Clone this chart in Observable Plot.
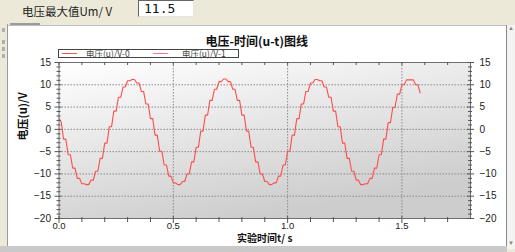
<!DOCTYPE html>
<html><head><meta charset="utf-8">
<script src="https://cdn.jsdelivr.net/npm/d3@7"></script>
<script src="https://cdn.jsdelivr.net/npm/@observablehq/plot@0.6"></script>
<style>
html,body{margin:0;padding:0;}
body{width:515px;height:252px;overflow:hidden;background:#ece9d8;position:relative;font-family:"Liberation Sans",Arial,sans-serif;}
.abs{position:absolute;}
#hdrLabel{left:22px;top:3px;font-family:"Noto Sans CJK SC",sans-serif;font-size:11.5px;color:#222;letter-spacing:0px;}
#hdrBox{left:138px;top:0px;width:56px;height:17px;background:#fff;border-top:1px solid #666;border-left:1px solid #666;border-right:1px solid #e4e4e4;border-bottom:1px solid #e4e4e4;box-sizing:border-box;}
#hdrVal{left:5px;top:0px;font-family:"DejaVu Sans Mono",monospace;font-size:13px;color:#111;line-height:16px;}
#leftStrip{left:0;top:24px;width:8px;height:222px;background:#ece9d8;border-right:1px solid #9a9a9a;box-sizing:border-box;}
.tab{left:2px;width:3px;height:4px;background:#b0b0b0;}
#topTab{left:10px;top:23px;width:30px;height:2px;background:#9c9c9c;}
#panel{left:8px;top:25px;width:498px;height:221px;background:#fff;border-top:1px solid #bdbdbd;box-sizing:border-box;}
#scroll{left:506px;top:25px;width:9px;height:224px;background:#f3f3f1;border-left:1px solid #8a8a8a;box-sizing:border-box;font-size:6px;color:#888;}
#bottomBar{left:0;top:246px;width:507px;height:6px;background:#c9c9c9;}
#chart{left:0;top:0;}
#legend{left:58px;top:49px;width:181px;height:9px;border:1px solid #444;box-sizing:border-box;background:#fff;font-family:"Noto Sans CJK SC",sans-serif;font-size:8.5px;line-height:7px;color:#444;white-space:nowrap;}
.sw{position:absolute;top:3px;height:0;border-top:1.2px solid;}
.lt{position:absolute;top:0px;}
</style>
</head><body>
<div class="abs" id="hdrLabel">电压最大值Um/ V</div>
<div class="abs" id="hdrBox"><div class="abs" id="hdrVal">11.5</div></div>
<div class="abs" id="topTab"></div>
<div class="abs" id="leftStrip">
  <div class="abs tab" style="top:4px"></div>
  <div class="abs tab" style="top:16px"></div>
  <div class="abs tab" style="top:23px"></div>
  <div class="abs tab" style="top:30px"></div>
</div>
<div class="abs" id="panel"></div>
<div class="abs" id="scroll"><div class="abs" style="left:1px;top:0px">▲</div><div class="abs" style="left:1px;top:215px">▼</div></div>
<div class="abs" id="bottomBar"></div>
<div class="abs" id="chart"></div>
<div class="abs" id="legend">
  <div class="sw" style="left:3px;width:15px;border-color:#ff4d4d"></div>
  <div class="lt" style="left:27px">电压(u)/V-0</div>
  <div class="sw" style="left:94px;width:15px;border-color:#ff7a8c"></div>
  <div class="lt" style="left:123px">电压(u)/V-1</div>
</div>
<script>
// ---- data ----
const chartTitle = "电压-时间(u-t)图线";
const xLabel = "实验时间t/ s";
const yLabel = "电压(u)/V";
const seriesNames = ["电压(u)/V-0", "电压(u)/V-1"];
const sampleStep = 0.01; // s between samples
const voltage0 = [
  2.5, 1.6, -2.2, -2.2, -5.7, -5.7, -8.7, -8.7, -11.0, -11.0,
  -12.2, -12.2, -12.4, -12.4, -11.4, -11.4, -9.4, -9.4, -6.5, -6.5,
  -3.1, -3.1, 0.6, 0.6, 4.1, 4.1, 7.2, 7.2, 9.5, 9.5,
  10.9, 10.9, 11.2, 11.2, 10.4, 10.4, 8.5, 8.5, 5.7, 5.7,
  2.4, 2.4, -1.3, -1.3, -4.9, -4.9, -8.0, -8.0, -10.5, -10.5,
  -12.0, -12.0, -12.4, -12.4, -11.7, -11.7, -10.0, -10.0, -7.3, -7.3,
  -4.0, -4.0, -0.4, -0.4, 3.2, 3.2, 6.5, 6.5, 9.0, 9.0,
  10.7, 10.7, 11.3, 11.3, 10.7, 10.7, 9.0, 9.0, 6.5, 6.5,
  3.2, 3.2, -0.4, -0.4, -4.0, -4.0, -7.3, -7.3, -10.0, -10.0,
  -11.7, -11.7, -12.4, -12.4, -12.0, -12.0, -10.5, -10.5, -8.0, -8.0,
  -4.9, -4.9, -1.3, -1.3, 2.4, 2.4, 5.7, 5.7, 8.5, 8.5,
  10.4, 10.4, 11.2, 11.2, 10.9, 10.9, 9.5, 9.5, 7.2, 7.2,
  4.1, 4.1, 0.6, 0.6, -3.1, -3.1, -6.5, -6.5, -9.4, -9.4,
  -11.4, -11.4, -12.4, -12.4, -12.2, -12.2, -11.0, -11.0, -8.7, -8.7,
  -5.7, -5.7, -2.2, -2.2, 1.5, 1.5, 4.9, 4.9, 7.9, 7.9,
  10.0, 10.0, 11.1, 11.1, 11.1, 11.1, 10.0, 10.0, 8.2
];
const xDomain = [0, 1.8];
const yDomain = [-20, 15];
const xMajorTicks = [0, 0.5, 1.0, 1.5];
const xMinorTicks = [0.1,0.2,0.3,0.4,0.6,0.7,0.8,0.9,1.1,1.2,1.3,1.4,1.6,1.7];
const yMajorTicks = [-20, -15, -10, -5, 0, 5, 10, 15];
const yMinorTicks = [-19,-18,-17,-16,-14,-13,-12,-11,-9,-8,-7,-6,-4,-3,-2,-1,1,2,3,4,6,7,8,9,11,12,13,14];

// ---- layout ----
const W = 515, H = 252, mL = 58.5, mR = 45, mT = 62, mB = 34;
const pW = W - mL - mR, pH = H - mT - mB;
const data = voltage0.map((v, i) => ({t: i * sampleStep, v, series: seriesNames[0]}));
const tickColor = "#555";
const axisFont = "Liberation Sans, Arial, sans-serif";

const chart = Plot.plot({
  width: W, height: H,
  marginLeft: mL, marginRight: mR, marginTop: mT, marginBottom: mB,
  style: {background: "transparent", fontFamily: axisFont, fontSize: "10px", color: "#222", overflow: "visible"},
  x: {domain: xDomain, axis: null},
  y: {domain: yDomain, axis: null},
  marks: [
    Plot.frame({fill: "#e8e8e8", stroke: null, ariaLabel: "bgframe"}),
    Plot.gridX(xMajorTicks.filter(d => d > xDomain[0]), {stroke: "#8a8a8a", strokeOpacity: 1, strokeDasharray: "1.5,1.5"}),
    Plot.gridY(yMajorTicks.filter(d => d > yDomain[0] && d < yDomain[1]), {stroke: "#8a8a8a", strokeOpacity: 1, strokeDasharray: "1.5,1.5"}),
    Plot.line(data, {x: "t", y: "v", stroke: "#ff4d4d", strokeWidth: 1.1}),
    Plot.frame({stroke: "#6e6e6e"}),
    // left axis ticks (cross ticks)
    Plot.tickY(yMinorTicks, {y: d => d, insetLeft: -2, insetRight: pW - 2, stroke: tickColor}),
    Plot.tickY(yMajorTicks, {y: d => d, insetLeft: -4, insetRight: pW - 3, stroke: tickColor}),
    // right axis ticks
    Plot.tickY(yMinorTicks, {y: d => d, insetLeft: pW - 2, insetRight: -2, stroke: tickColor}),
    Plot.tickY(yMajorTicks, {y: d => d, insetLeft: pW - 3, insetRight: -4, stroke: tickColor}),
    // bottom ticks
    Plot.tickX(xMinorTicks, {x: d => d, insetTop: pH - 1, insetBottom: -4, stroke: tickColor}),
    Plot.tickX(xMajorTicks, {x: d => d, insetTop: pH - 2, insetBottom: -5, stroke: tickColor}),
    // top ticks
    Plot.tickX(xMinorTicks.concat(xMajorTicks), {x: d => d, insetTop: 0, insetBottom: pH - 3, stroke: tickColor}),
    Plot.axisX(xMajorTicks, {anchor: "bottom", tickSize: 0, tickPadding: 4, tickFormat: d3.format(".1f"), label: null, fontSize: 9.5, fill: "#222"}),
    Plot.axisY(yMajorTicks, {anchor: "left", tickSize: 0, tickPadding: 8, label: null, fontSize: 10, fill: "#222"}),
    Plot.axisY(yMajorTicks, {anchor: "right", tickSize: 0, tickPadding: 9, label: null, fontSize: 10, fill: "#222"}),
    Plot.text([yLabel], {frameAnchor: "left", dx: -36, rotate: -90, text: d => d, fontWeight: "bold", fontSize: 11, fontFamily: "Noto Sans CJK SC", fill: "#111"}),
    Plot.text([xLabel], {frameAnchor: "bottom", dy: 23.5, text: d => d, fontWeight: "bold", fontSize: 10, fontFamily: "Noto Sans CJK SC", fill: "#111"}),
    Plot.text([chartTitle], {frameAnchor: "top", dy: -25, dx: -8, text: d => d, fontWeight: "bold", fontSize: 12, fontFamily: "Noto Sans CJK SC", fill: "#111"})
  ]
});

// gradient background for the plotting area
const svgNS = "http://www.w3.org/2000/svg";
const defs = document.createElementNS(svgNS, "defs");
defs.innerHTML = '<linearGradient id="plotBg" x1="0" y1="0" x2="0.45" y2="1"><stop offset="0" stop-color="#ffffff"/><stop offset="1" stop-color="#cdcdcd"/></linearGradient>';
chart.insertBefore(defs, chart.firstChild);
const bg = chart.querySelector('[aria-label="bgframe"]');
if (bg) { (bg.tagName === "rect" ? bg : bg.querySelector("rect") || bg).setAttribute("fill", "url(#plotBg)"); }

document.getElementById("chart").appendChild(chart);
</script>
</body></html>
